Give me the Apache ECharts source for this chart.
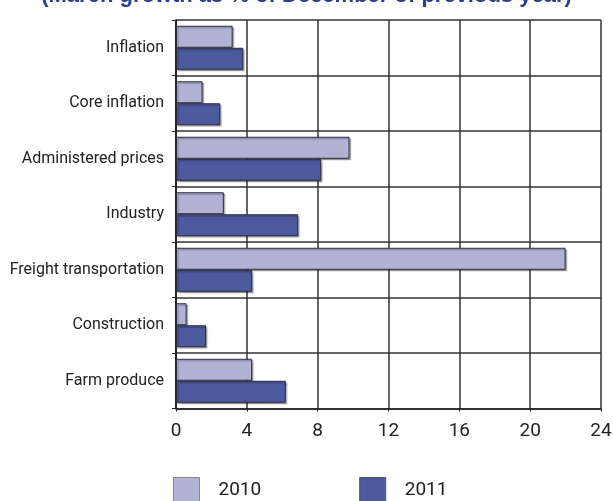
<!DOCTYPE html>
<html><head><meta charset="utf-8">
<script src="https://cdn.jsdelivr.net/npm/echarts@6/dist/echarts.min.js"></script>
<style>html,body{margin:0;padding:0;background:#fff}#c{width:613px;height:501px}</style>
</head><body><div id="c"></div>
<script>
const categories = ['Inflation','Core inflation','Administered prices','Industry','Freight transportation','Construction','Farm produce'];
const values2010 = [3.2, 1.5, 9.8, 2.7, 22.0, 0.6, 4.3];
const values2011 = [3.8, 2.5, 8.2, 6.9, 4.3, 1.7, 6.2];
const xTicks = [0, 4, 8, 12, 16, 20, 24];
const titleText = '(March growth as % of December of previous year)';

const font = 'Roboto,"DejaVu Sans Condensed",sans-serif';
const chart = echarts.init(document.getElementById('c'));
const barStyle = (c) => ({color: c, borderColor: '#2a2a3a', borderWidth: 1,
  shadowColor: 'rgba(0,0,0,0.3)', shadowOffsetX: 1.5, shadowOffsetY: 1.5, shadowBlur: 1});
chart.setOption({
  animation: false,
  title: {text: titleText, left: 'center', top: -15, padding: 0,
    textStyle: {fontFamily: '"Liberation Sans",Arial,sans-serif', fontWeight: 'bold', fontSize: 22, color: '#2b3f91'}},
  grid: {left: 176, right: 12, top: 20, bottom: 92.5, containLabel: false, outerBoundsMode: 'none'},
  legend: {left: 173, top: 477, padding: 0, icon: 'rect', itemWidth: 26, itemHeight: 26, itemGap: 98,
    textStyle: {fontFamily: font, fontSize: 19, color: '#222', padding: [4,0,0,14]},
    data: [{name: '2010', itemStyle: {borderColor: '#888', borderWidth: 1}}, {name: '2011', itemStyle: {borderColor: '#555', borderWidth: 1}}]},
  xAxis: {type: 'value', min: xTicks[0], max: xTicks[xTicks.length-1], interval: 4,
    axisLine: {show: true, lineStyle: {color: '#222', width: 1.5}},
    axisTick: {show: true, length: 3, lineStyle: {color: '#222'}},
    axisLabel: {fontFamily: font, fontSize: 19, color: '#222', margin: 13},
    splitLine: {show: true, lineStyle: {color: '#333', width: 1.5}}},
  yAxis: {type: 'category', data: categories, inverse: true,
    axisLine: {show: true, lineStyle: {color: '#111', width: 1.5}},
    axisTick: {show: true, length: 4, lineStyle: {color: '#222'}},
    axisLabel: {fontFamily: font, fontSize: 16, color: '#222', margin: 12},
    splitLine: {show: true, lineStyle: {color: '#333', width: 1.5}}},
  series: [
    {name: '2010', type: 'bar', data: values2010, barWidth: 22, barGap: '0%', itemStyle: barStyle('#b1b2d4')},
    {name: '2011', type: 'bar', data: values2011, barWidth: 22, barGap: '0%', itemStyle: barStyle('#4c5a9e')}
  ]
});
</script></body></html>
